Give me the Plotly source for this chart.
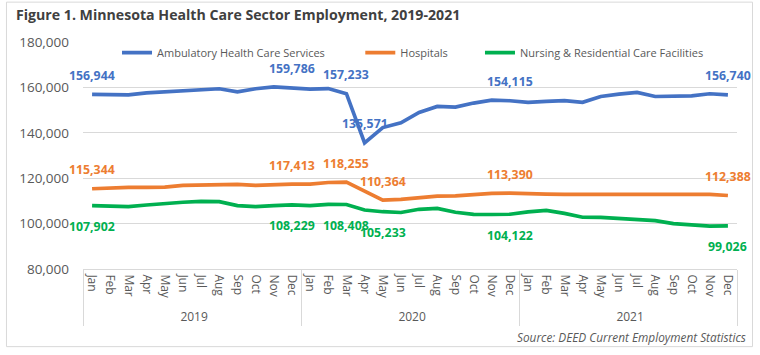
import plotly.graph_objects as go

# ---------------- data ----------------
years = ["2019"] * 12 + ["2020"] * 12 + ["2021"] * 12
months = ["Jan", "Feb", "Mar", "Apr", "May", "Jun",
          "Jul", "Aug", "Sep", "Oct", "Nov", "Dec"] * 3

ambulatory = [156944, 156700, 156700, 157600, 158100, 158300, 159000, 159400, 158000, 159400, 160200, 159786,
              159200, 159500, 157233, 135571, 142300, 144400, 149000, 151600, 151300, 153100, 154400, 154115,
              153400, 153800, 154200, 153400, 156000, 157000, 157800, 156000, 156000, 156300, 157200, 156740]
hospitals = [115344, 115800, 116000, 116000, 116100, 116800, 117000, 117300, 117300, 116800, 117200, 117413,
             117400, 118100, 118255, 114100, 110364, 110700, 111500, 112100, 112200, 112700, 113300, 113390,
             113000, 113000, 112900, 112800, 112600, 112900, 112900, 112900, 112600, 112900, 112900, 112388]
nursing = [107902, 107500, 107500, 108200, 108900, 109400, 109800, 109700, 107900, 107500, 107900, 108229,
           107900, 108500, 108408, 106000, 105233, 104900, 106300, 106700, 105000, 104100, 104000, 104122,
           105200, 105800, 104500, 102800, 102700, 102300, 101900, 101300, 100000, 99400, 98900, 99026]

amb_label_idx = [0, 11, 14, 15, 23, 35]
hosp_label_idx = [0, 11, 14, 16, 23, 35]
nurs_label_idx = [0, 11, 14, 16, 23, 35]

series_names = ["Ambulatory Health Care Services", "Hospitals",
                "Nursing & Residential Care Facilities"]
colors = ["#4472C4", "#ED7D31", "#00B050"]

FONT = "Open Sans"
GRAY = "#595959"

fig = go.Figure()
for name, vals, col, leg in zip(series_names, [ambulatory, hospitals, nursing], colors,
                                ["legend", "legend2", "legend3"]):
    fig.add_trace(go.Scatter(
        x=[years, months], y=vals, name=name, mode="lines",
        line=dict(color=col, width=3.7), legend=leg, showlegend=True,
    ))

annotations = []
for vals, idxs, col, shift in [(ambulatory, amb_label_idx, colors[0], 19),
                               (hospitals, hosp_label_idx, colors[1], 19),
                               (nursing, nurs_label_idx, colors[2], -21)]:
    for i in idxs:
        annotations.append(dict(
            x=i, y=vals[i], xref="x", yref="y", text=f"{vals[i]:,}",
            showarrow=False, yshift=shift, xanchor="center", yanchor="middle",
            font=dict(family=FONT, size=12.3, color=col, weight="bold"),
        ))

annotations.append(dict(
    x=1.017, y=-0.30, xref="paper", yref="paper", xanchor="right", yanchor="middle",
    text="<i>Source: DEED Current Employment Statistics</i>", showarrow=False,
    font=dict(family=FONT, size=11.8, color=GRAY),
))
# chart title
annotations.append(dict(
    x=-0.106, y=1.12, xref="paper", yref="paper", xanchor="left", yanchor="middle",
    text="<b>Figure 1. Minnesota Health Care Sector Employment, 2019-2021</b>", showarrow=False,
    font=dict(family=FONT, size=14.15, color="#404040"),
))

legend_common = dict(orientation="h", yanchor="middle", y=0.953, xanchor="left",
                     bgcolor="rgba(0,0,0,0)", font=dict(family=FONT, size=11, color=GRAY),
                     borderwidth=0)

fig.update_layout(
    width=760, height=355,
    margin=dict(l=83, r=23, t=42, b=86),
    paper_bgcolor="white", plot_bgcolor="white",
    showlegend=True,
    font=dict(family=FONT, color=GRAY),
    legend=dict(x=0.052, **legend_common),
    legend2=dict(x=0.424, **legend_common),
    legend3=dict(x=0.607, **legend_common),
    annotations=annotations,
    shapes=[dict(type="rect", xref="paper", yref="paper", x0=-0.117, x1=1.0237, y0=-0.342, y1=1.1756,
                 line=dict(color="#D9D9D9", width=1), layer="below")],
)

fig.update_yaxes(range=[80000, 180000], dtick=20000, tickformat=",", showgrid=True,
                 gridcolor="#D9D9D9", gridwidth=1, zeroline=False, showline=False, automargin=False,
                 tickfont=dict(family=FONT, size=13.5, color=GRAY), ticklabelstandoff=13)
fig.update_xaxes(type="multicategory", range=[-0.5, len(months) - 0.5], tickangle=90,
                 showdividers=True, dividercolor="#D9D9D9",
                 dividerwidth=1, showgrid=False, showline=True, linecolor="#D9D9D9", linewidth=1,
                 automargin=False, ticks="", ticklabelstandoff=2,
                 tickfont=dict(family=FONT, size=12, color=GRAY))

fig.write_html("out.html", config={"displayModeBar": False},
               post_script="document.body.style.margin='0';")
